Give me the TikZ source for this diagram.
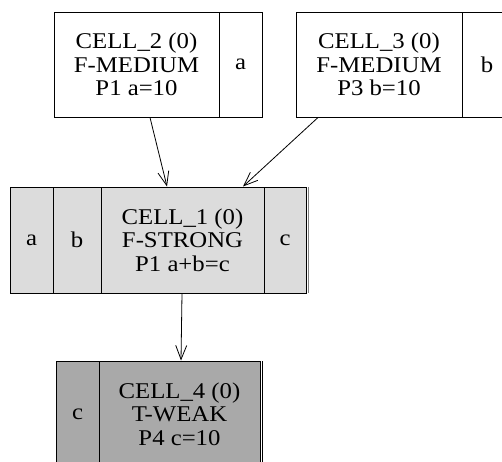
\documentclass[tikz,border=0pt]{standalone}
\usepackage{fontspec}
\setmainfont{Liberation Serif}[FakeStretch=1.1]
\usetikzlibrary{arrows.meta}
\definecolor{cellA}{HTML}{DCDCDC}
\definecolor{cellB}{HTML}{A9A9A9}
\tikzset{
  part/.style={draw=black, line width=1pt, inner sep=0pt, align=center,
    font=\fontsize{22.5}{23.3}\selectfont},
  link/.style={line width=0.8pt, -{Straight Barb[length=14pt,width=11pt,line width=0.8pt]}}
}
\begin{document}
\begin{tikzpicture}[x=1pt,y=-1pt]
\useasboundingbox (0,0) rectangle (502,461);
\clip (0,0) rectangle (502,461);
% CELL_2
\node[part, fill=white, minimum width=165pt, minimum height=105pt] (c2m) at (136.5,64.5) {CELL\_2 (0)\\F-MEDIUM\\P1 a=10};
\node[part, fill=white, minimum width=43pt, minimum height=105pt] (c2a) at (240.5,64.5) {a};
% CELL_3
\node[part, fill=white, minimum width=166pt, minimum height=105pt] (c3m) at (379,64.5) {CELL\_3 (0)\\F-MEDIUM\\P3 b=10};
\node[part, fill=white, minimum width=50pt, minimum height=105pt] (c3b) at (487,64.5) {b};
% CELL_1
\draw[gray, line width=1pt] (308,187) -- (308,293);
\node[part, fill=cellA, minimum width=43pt, minimum height=106pt] (c1a) at (31.5,240) {a};
\node[part, fill=cellA, minimum width=48pt, minimum height=106pt] (c1b) at (77,240) {b};
\node[part, fill=cellA, minimum width=163pt, minimum height=106pt] (c1m) at (182.5,240) {CELL\_1 (0)\\F-STRONG\\P1 a+b=c};
\node[part, fill=cellA, minimum width=42pt, minimum height=106pt] (c1c) at (285,240) {c};
% CELL_4
\draw[black, line width=1pt] (262.5,361) -- (262.5,470);
\node[part, fill=cellB, minimum width=43pt, minimum height=106pt] (c4c) at (77.5,414) {c};
\node[part, fill=cellB, minimum width=161pt, minimum height=106pt] (c4m) at (179.5,414) {CELL\_4 (0)\\T-WEAK\\P4 c=10};
% connectors
\draw[link] ([xshift=13.5pt]c2m.south) -- ([xshift=-15.5pt]c1m.north);
\draw[link] ([xshift=-61pt]c3m.south) -- ([xshift=60.5pt]c1m.north);
\draw[link] ([xshift=-0.5pt]c1m.south) -- ([xshift=1.5pt]c4m.north);
\end{tikzpicture}
\end{document}
